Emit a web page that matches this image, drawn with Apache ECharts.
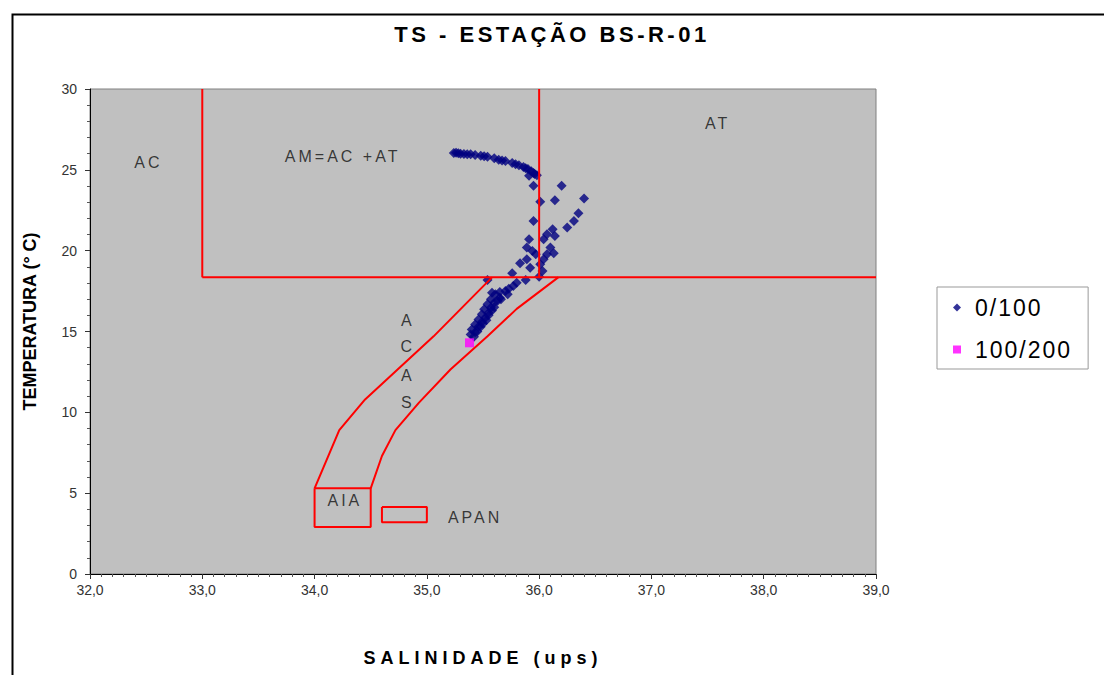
<!DOCTYPE html>
<html><head><meta charset="utf-8">
<script src="https://cdn.jsdelivr.net/npm/echarts@6/dist/echarts.min.js"></script>
<style>
html,body{margin:0;padding:0;background:#fff;}
#chart{width:1104px;height:675px;}
#chart text[style*="Liberation"]{letter-spacing:3px;}
#chart text[style*="Helvetica"]{letter-spacing:5px;}
#chart text[style*="23px"]{letter-spacing:2px;}
#chart text[style*="22px"]{letter-spacing:3.5px;}
</style></head><body><div id="chart"></div>
<script>
// ---- data ----
const titleText = 'TS - ESTAÇÃO BS-R-01';
const xAxisTitle = 'SALINIDADE (ups)';
const yAxisTitle = 'TEMPERATURA (° C)';
const xTickLabels = ['32,0','33,0','34,0','35,0','36,0','37,0','38,0','39,0'];
const yTickLabels = ['0','5','10','15','20','25','30'];

const salinity0_100 = [35.24,35.26,35.28,35.30,35.33,35.36,35.39,35.43,35.48,35.51,35.54,35.60,35.64,35.67,35.70,35.76,35.79,35.82,35.86,35.88,35.90,35.93,35.95,35.96,35.98,35.91,35.95,36.20,
  36.01,36.14,36.40,36.35,36.31,36.25,35.95,36.12,36.07,36.14,36.04,35.91,35.89,35.94,36.10,36.07,36.13,35.97,35.89,36.04,
  35.83,35.92,36.01,36.03,35.76,36.00,35.88,35.54,35.80,35.77,35.73,35.70,35.65,35.61,35.58,35.65,35.57,35.60,35.54,35.57,
  35.51,35.55,35.49,35.52,35.46,35.49,35.43,35.46,35.40,35.43,35.39,35.42,
  35.45,35.48,35.50,35.53,35.55,35.58,35.60,35.63,35.66,35.72];
const temperature0_100 = [26.04,26.05,26.02,26.00,25.98,25.97,25.96,25.91,25.87,25.84,25.81,25.71,25.62,25.58,25.54,25.42,25.35,25.29,25.17,25.10,25.05,24.92,24.80,24.74,24.67,24.63,24.01,24.01,
  23.02,23.12,23.23,22.32,21.84,21.43,21.84,21.33,21.02,20.91,20.71,20.71,20.19,19.98,20.19,19.78,19.84,19.78,19.47,19.47,
  19.22,18.95,19.16,18.74,18.60,18.39,18.18,18.18,18.02,17.81,17.65,17.50,17.44,17.30,17.40,17.09,16.99,16.78,16.68,16.47,
  16.37,16.16,16.06,15.85,15.75,15.58,15.44,15.29,15.13,14.96,14.82,14.67,
  15.00,15.30,15.50,15.70,16.00,16.30,16.50,16.90,17.00,17.30];
const salinity100_200 = [35.38];
const temperature100_200 = [14.30];

// water-mass boundaries (salinity, temperature)
const lineAcAm = [[33.0,30],[33.0,18.35]];
const lineAmAt = [[36.0,30],[36.0,18.35]];
const lineHoriz = [[33.0,18.35],[39.0,18.35]];
const acasLeft = [[34.0,5.3],[34.22,8.9],[34.45,10.8],[35.06,14.7],[35.58,18.35]];
const acasRight = [[34.5,5.3],[34.6,7.3],[34.72,8.9],[34.93,10.6],[35.21,12.65],[35.54,14.7],[35.8,16.4],[36.17,18.35]];
const aiaBox = [[34.0,5.3],[34.5,5.3],[34.5,2.9],[34.0,2.9],[34.0,5.3]];
const apanBox = [[34.6,4.15],[35.0,4.15],[35.0,3.2],[34.6,3.2],[34.6,4.15]];

const regionNames = ['AC','AM=AC +AT','AT','A','C','A','S','AIA','APAN'];
const regionS = [32.52,34.25,37.59,34.83,34.83,34.83,34.83,34.27,35.43];
const regionT = [25.44,25.83,27.84,15.70,14.05,12.27,10.58,4.53,3.49];

// ---- chart ----
const zip = (a,b) => a.map((v,i)=>[v,b[i]]);
const chart = echarts.init(document.getElementById('chart'), null, {renderer:'svg'});
const redLine = (d) => ({type:'line', data:d, symbol:'none', silent:true, z:5,
  lineStyle:{color:'#FF0000', width:2}, animation:false});

chart.setOption({
  animation:false,
  backgroundColor:'#fff',
  title:{text:titleText, left:'center', top:18,
    textStyle:{fontFamily:'Liberation Sans', fontWeight:'bold', fontSize:22, color:'#000'}},
  graphic:[{type:'rect', left:10, top:12, shape:{x:0,y:0,width:1200,height:800},
    style:{fill:'none', stroke:'#000', lineWidth:2}, silent:true}],
  legend:{orient:'vertical', left:937, top:287, padding:[9,30,8,16], itemGap:19,
    itemWidth:8, itemHeight:8, borderColor:'#999', borderWidth:1, backgroundColor:'#fff',
    textStyle:{fontFamily:'Arial', fontSize:23, color:'#000', padding:[0,0,0,9]},
    data:[{name:'0/100', icon:'diamond'},{name:'100/200', icon:'rect'}]},
  grid:{left:90, top:89, width:786, height:485, show:true, backgroundColor:'#C0C0C0',
    borderColor:'#808080', borderWidth:1},
  xAxis:{type:'value', min:32, max:39, interval:1,
    name:xAxisTitle, nameLocation:'middle', nameGap:75,
    nameTextStyle:{fontFamily:'Helvetica', fontWeight:'bold', fontSize:18, color:'#000'},
    axisLine:{show:true, onZero:false, lineStyle:{color:'#000', width:1}},
    axisTick:{show:true, length:5, lineStyle:{color:'#333'}},
    minorTick:{show:true, splitNumber:10, length:3, lineStyle:{color:'#555'}},
    splitLine:{show:false},
    axisLabel:{margin:9, fontFamily:'Arial', fontSize:14, color:'#333',
      formatter:(v)=>xTickLabels[Math.round(v-32)]}},
  yAxis:{type:'value', min:0, max:30, interval:5,
    name:yAxisTitle, nameLocation:'middle', nameGap:51,
    nameTextStyle:{fontFamily:'Arial', fontWeight:'bold', fontSize:18, color:'#000', padding:[0,0,0,20]},
    axisLine:{show:true, onZero:false, lineStyle:{color:'#000', width:1}},
    axisTick:{show:true, length:5, lineStyle:{color:'#333'}},
    minorTick:{show:true, splitNumber:5, length:3, lineStyle:{color:'#555'}},
    splitLine:{show:false},
    axisLabel:{margin:13, fontFamily:'Arial', fontSize:14, color:'#333',
      formatter:(v)=>yTickLabels[Math.round(v/5)]}},
  series:[
    {name:'0/100', type:'scatter', symbol:'diamond', symbolSize:10, z:3,
      itemStyle:{color:'#000080'}, data:zip(salinity0_100, temperature0_100)},
    {name:'100/200', type:'scatter', symbol:'rect', symbolSize:9, z:4,
      itemStyle:{color:'#FF00FF'}, data:zip(salinity100_200, temperature100_200)},
    redLine(lineAcAm), redLine(lineAmAt), redLine(lineHoriz),
    redLine(acasLeft), redLine(acasRight), redLine(aiaBox), redLine(apanBox),
    {type:'scatter', symbolSize:0, silent:true, z:6,
      data:regionS.map((s,i)=>({value:[s, regionT[i]], name:regionNames[i]})),
      label:{show:true, position:'inside', formatter:(p)=>p.name,
        fontFamily:'Liberation Sans', fontSize:16, color:'#111'}}
  ]
});
</script></body></html>
